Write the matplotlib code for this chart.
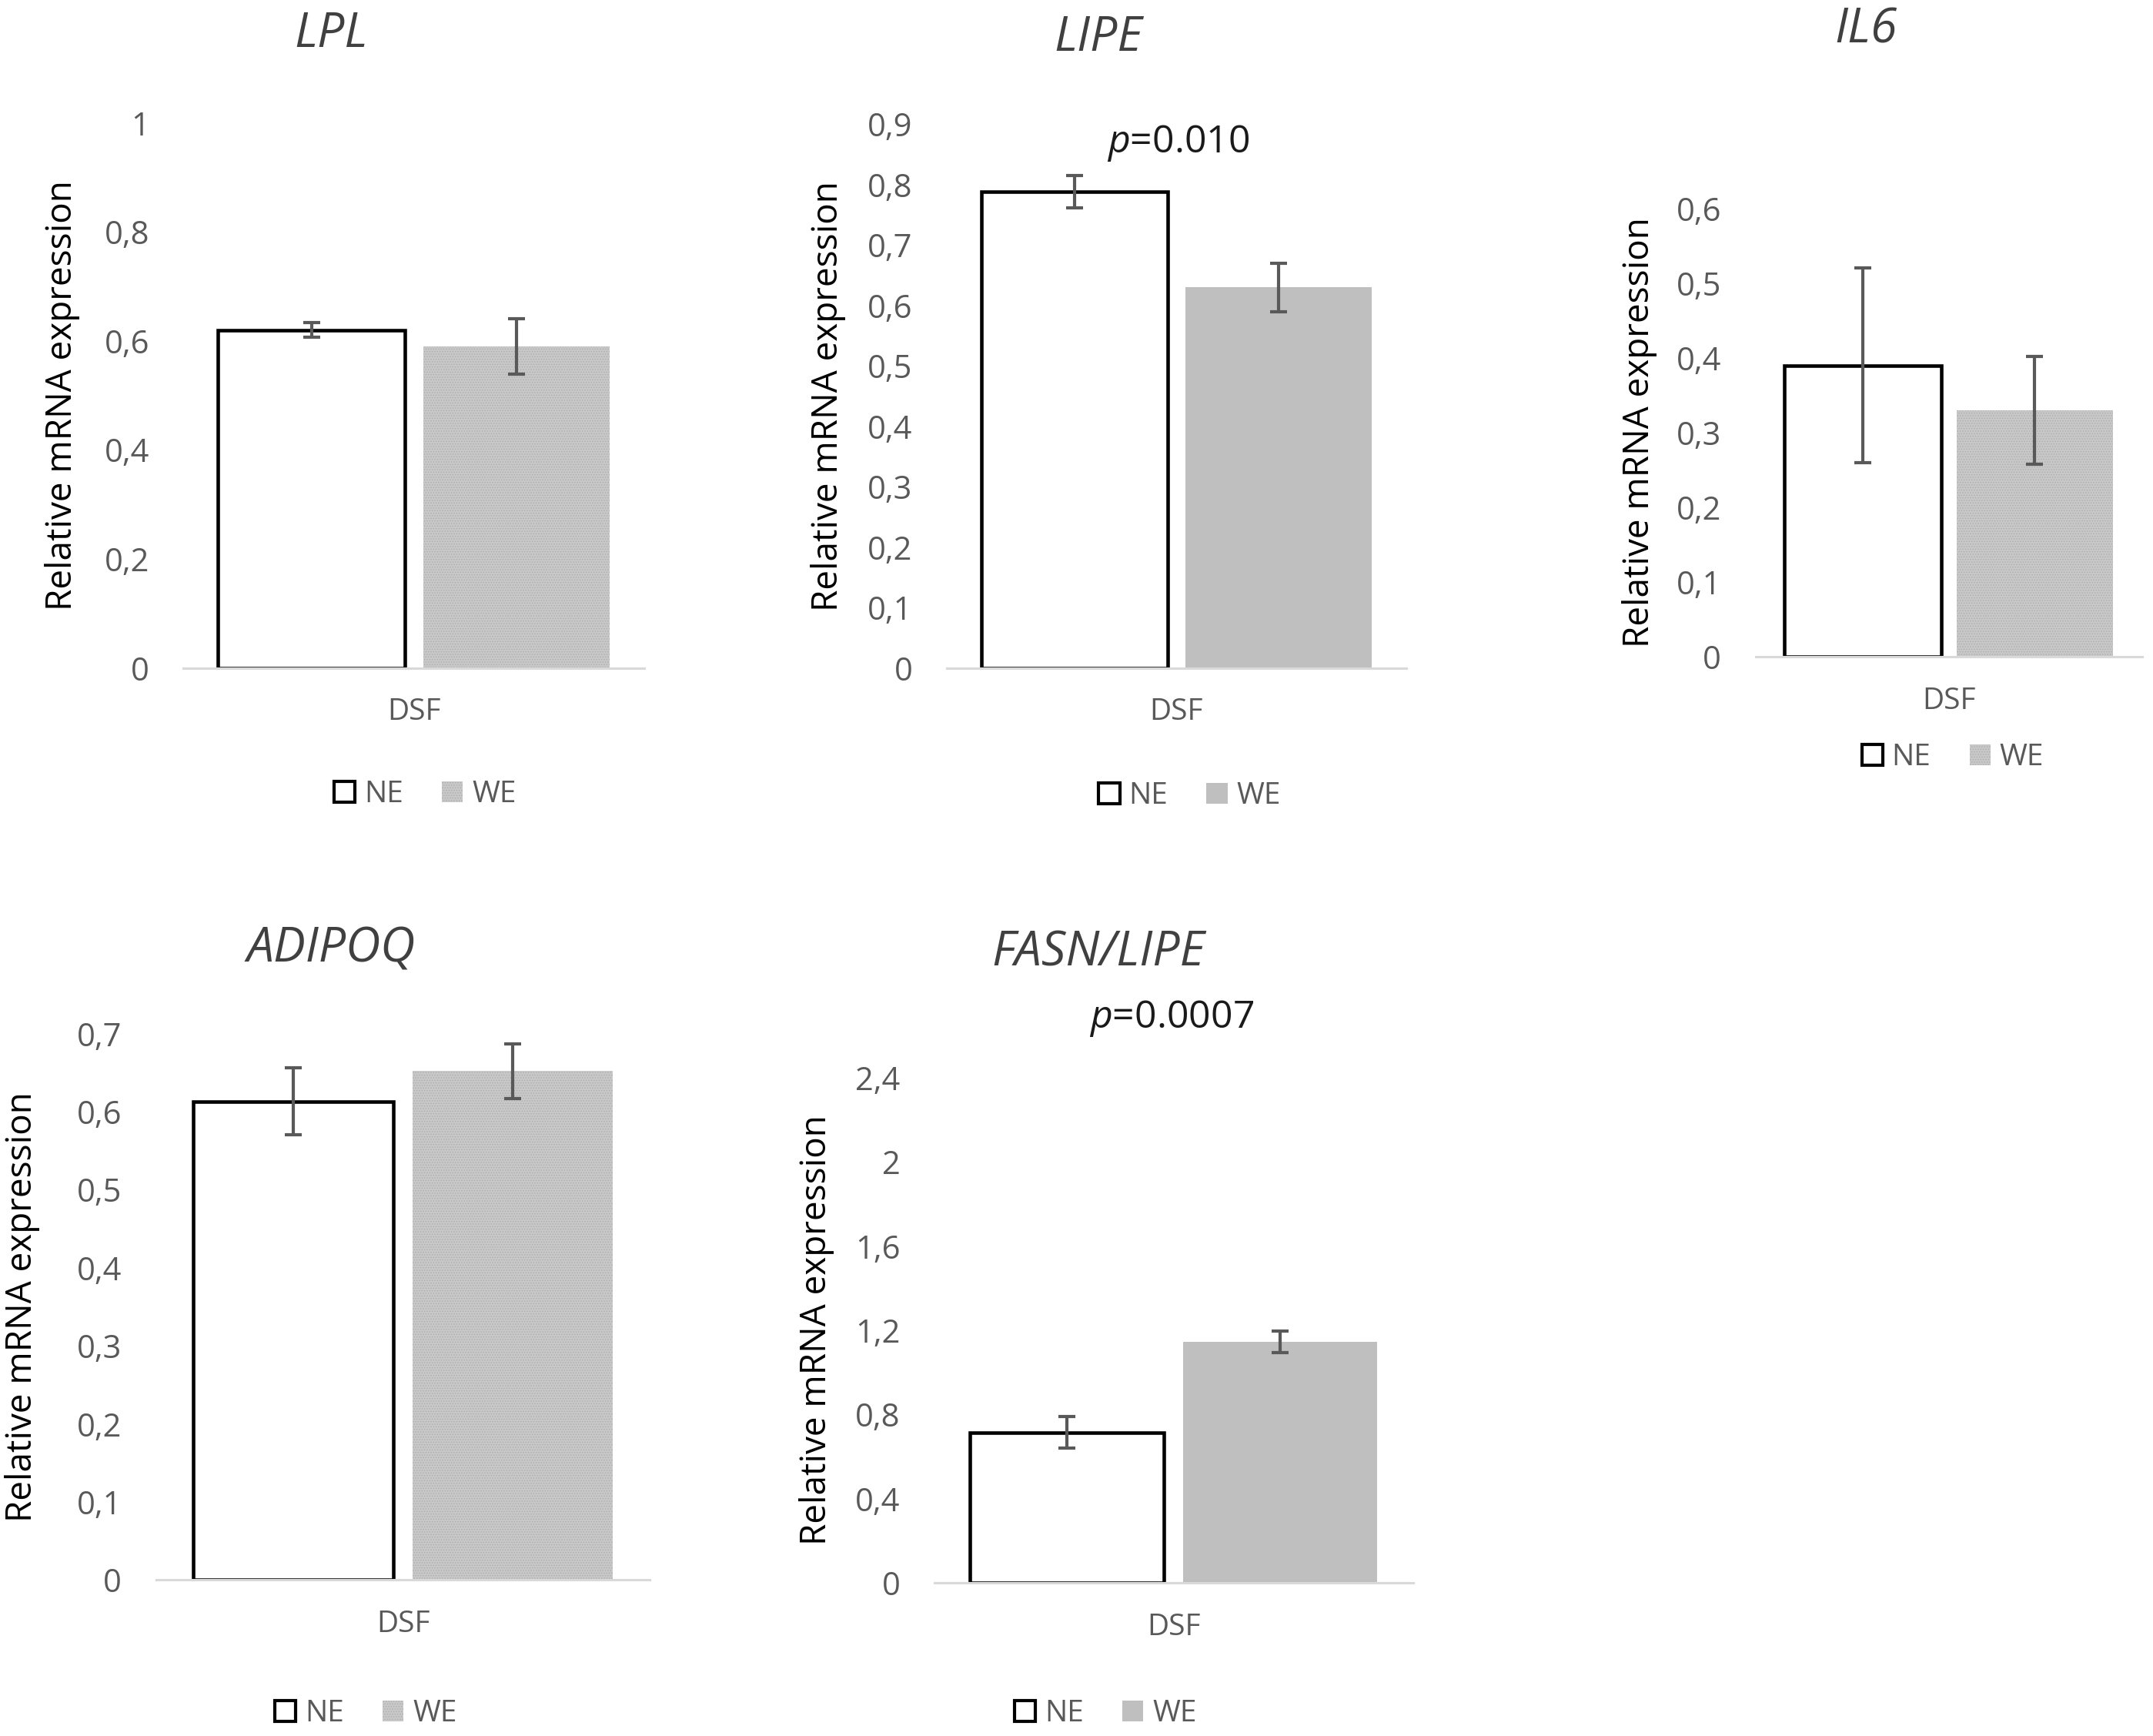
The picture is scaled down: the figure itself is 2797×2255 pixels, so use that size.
import numpy as np
import matplotlib
matplotlib.use('Agg')
import matplotlib.pyplot as plt
from matplotlib.patches import Patch

# values
genes = ['LPL', 'LIPE', 'IL6', 'ADIPOQ', 'FASN/LIPE']
series = ['NE', 'WE']
group = 'DSF'
ne_mean = [0.620, 0.788, 0.390, 0.613, 0.715]
ne_err = [0.013, 0.027, 0.130, 0.043, 0.075]
we_mean = [0.590, 0.630, 0.330, 0.652, 1.145]
we_err = [0.051, 0.040, 0.072, 0.035, 0.052]
y_ticks = [
    [0, 0.2, 0.4, 0.6, 0.8, 1],
    [0, 0.1, 0.2, 0.3, 0.4, 0.5, 0.6, 0.7, 0.8, 0.9],
    [0, 0.1, 0.2, 0.3, 0.4, 0.5, 0.6],
    [0, 0.1, 0.2, 0.3, 0.4, 0.5, 0.6, 0.7],
    [0, 0.4, 0.8, 1.2, 1.6, 2, 2.4],
]
p_labels = [None, '0.010', None, None, '0.0007']

plt.rcParams['font.family'] = ['Open Sans', 'DejaVu Sans']
plt.rcParams['mathtext.fontset'] = 'custom'
plt.rcParams['mathtext.it'] = 'Open Sans:italic'
plt.rcParams['mathtext.rm'] = 'Open Sans'
plt.rcParams['hatch.linewidth'] = 0.6

# layout grid measured on the reference (scaled picture units)
W, H = 1560.0, 1258.0


def fx(x):
    return x / W


def fy(y):
    return 1 - y / H


# left, right, y of top tick, y of zero
boxes = [(133, 467, 89, 484), (686, 1019, 90, 484), (1272, 1552, 151, 476),
         (113, 471, 749, 1145), (677, 1024, 781, 1147)]
title_xy = [(240, 25), (796, 28), (1352, 22), (240, 688), (796, 691)]
ylab_x = [45, 600, 1188, 16, 592]
legend_xy = [(308, 576), (862, 577), (1415, 549), (265, 1242), (801, 1242)]
pval_xy = [None, (854, 104), None, None, (849, 738)]
textured = [True, False, True, True, False]

grey_txt = '#595959'
err_kw = dict(ecolor='#595959', elinewidth=3, capsize=8, capthick=3)

fig = plt.figure(figsize=(27.97, 22.55), dpi=100)

for i, gene in enumerate(genes):
    l, r, t, b = boxes[i]
    ax = fig.add_axes([fx(l), fy(b), fx(r) - fx(l), fy(t) - fy(b)])

    ax.bar(-0.445, ne_mean[i], 0.81, color='white', edgecolor='black',
           linewidth=3.3, yerr=ne_err[i], error_kw=err_kw, zorder=2)
    if textured[i]:
        ax.bar(0.445, we_mean[i], 0.81, color='#c8c8c8', edgecolor='#adadad',
               linewidth=0, hatch='.....', yerr=we_err[i], error_kw=err_kw, zorder=2)
        we_handle = Patch(facecolor='#c8c8c8', edgecolor='#adadad', linewidth=0, hatch='.....')
    else:
        ax.bar(0.445, we_mean[i], 0.81, color='#bfbfbf', linewidth=0,
               yerr=we_err[i], error_kw=err_kw, zorder=2)
        we_handle = Patch(facecolor='#bfbfbf', linewidth=0)

    ax.set_xlim(-1, 1)
    ax.set_ylim(0, y_ticks[i][-1])
    ax.set_yticks(y_ticks[i])
    ax.set_yticklabels([('%g' % v).replace('.', ',') for v in y_ticks[i]])
    ax.set_xticks([0])
    ax.set_xticklabels([group])
    ax.tick_params(axis='y', length=0, pad=32, labelsize=30, labelcolor=grey_txt)
    ax.tick_params(axis='x', length=0, pad=28, labelsize=28, labelcolor=grey_txt)
    for side in ['left', 'right', 'top']:
        ax.spines[side].set_visible(False)
    ax.spines['bottom'].set_color('#d9d9d9')
    ax.spines['bottom'].set_linewidth(2.2)
    ax.spines['bottom'].set_zorder(5)
    ax.patch.set_alpha(0)

    fig.text(fx(title_xy[i][0]), fy(title_xy[i][1]), gene, ha='center', va='center',
             fontsize=45, style='italic', color='#404040')
    fig.text(fx(ylab_x[i]), fy((t + b) / 2), 'Relative mRNA expression', rotation=90,
             ha='center', va='center', fontsize=33, color='black')
    if p_labels[i]:
        fig.text(fx(pval_xy[i][0]), fy(pval_xy[i][1]), r'$p$=' + p_labels[i],
                 ha='center', va='center', fontsize=36, color='#1a1a1a')

    ne_handle = Patch(facecolor='white', edgecolor='black', linewidth=3)
    fig.legend(handles=[ne_handle, we_handle], labels=series, loc='center',
               bbox_to_anchor=(fx(legend_xy[i][0]), fy(legend_xy[i][1])), ncol=2,
               frameon=False, fontsize=28, handlelength=0.7, handleheight=0.7,
               handletextpad=0.3, columnspacing=1.3, labelcolor=grey_txt)

fig.savefig('out.png', dpi=100)
